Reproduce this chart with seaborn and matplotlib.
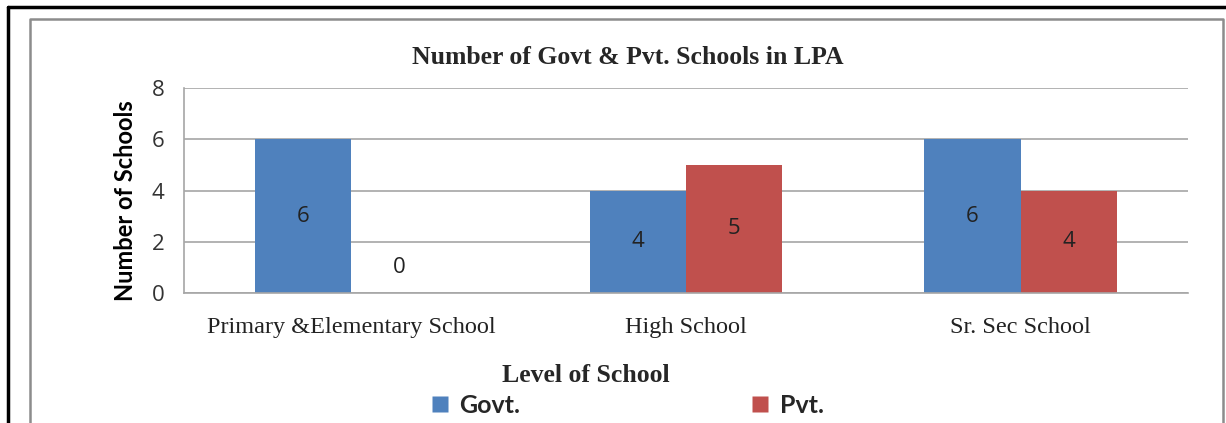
import matplotlib
matplotlib.use("Agg")
import matplotlib.pyplot as plt
import seaborn as sns
import pandas as pd
from matplotlib.lines import Line2D

categories = ["Primary &Elementary School", "High School", "Sr. Sec School"]
govt = [6, 4, 6]
pvt = [0, 5, 4]
series = ["Govt.", "Pvt."]
yticks = [0, 2, 4, 6, 8]

df = pd.DataFrame({
    "Level": categories * 2,
    "Count": govt + pvt,
    "Type": [series[0]] * 3 + [series[1]] * 3,
})

sns.set_style("white")
W, H = 1226, 423
fig = plt.figure(figsize=(W / 100, H / 100), dpi=100)
ax = fig.add_axes([184 / W, 1 - 293 / H, (1188 - 184) / W, (293 - 88) / H])

colors = {"Govt.": "#4F81BD", "Pvt.": "#C0504D"}
sns.barplot(data=df, x="Level", y="Count", hue="Type", palette=colors,
            width=0.575, ax=ax, legend=False, saturation=1, edgecolor="none")

ax.set_ylim(0, 8)
ax.set_xlim(-0.5, 2.5)
ax.set_yticks(yticks)
ax.yaxis.grid(True, color="#A6A6A6", linewidth=1.2)
ax.set_axisbelow(True)
for s in ["top", "right"]:
    ax.spines[s].set_visible(False)
for s in ["left", "bottom"]:
    ax.spines[s].set_color("#A6A6A6")
    ax.spines[s].set_linewidth(1.2)
ax.tick_params(axis="y", length=8, color="#A6A6A6", width=1.2, pad=6,
               labelsize=16, labelcolor="#333333")
ax.tick_params(axis="x", length=0, pad=17, labelsize=17.5, labelcolor="#222222")
for lab in ax.get_yticklabels():
    lab.set_family("Open Sans")
for lab in ax.get_xticklabels():
    lab.set_family("Liberation Serif")

# value labels
for cont, vals in zip(ax.containers, [govt, pvt]):
    for bar, v in zip(cont, vals):
        cx = bar.get_x() + bar.get_width() / 2
        ax.text(cx, v / 2 if v > 0 else 1, str(v), ha="center", va="center",
                fontsize=16, family="Open Sans", color="#222222")

ax.set_xlabel("")
ax.set_ylabel("Number of Schools", family="Lato", fontweight="bold",
              fontsize=17, color="black")
ax.yaxis.set_label_coords(-0.047, 0.45)

fig.text(628 / W, 1 - 57 / H, "Number of Govt & Pvt. Schools in LPA",
         ha="center", va="center", family="Liberation Serif",
         fontweight="bold", fontsize=18.5)
fig.text(586 / W, 1 - 375 / H, "Level of School", ha="center", va="center",
         family="Liberation Serif", fontweight="bold", fontsize=18.5)

# legend
handles = [Line2D([], [], marker="s", linestyle="none", markersize=11.5,
                  markerfacecolor=colors[s], markeredgecolor="none") for s in series]
fs_px = 18 * 100 / 72
leg = fig.legend(handles, series, loc="center left",
                 bbox_to_anchor=(430.5 / W, 1 - 405 / H),
                 ncol=2, frameon=False, borderpad=0, borderaxespad=0,
                 handlelength=19 / fs_px, handletextpad=10 / fs_px,
                 columnspacing=230 / fs_px,
                 prop={"family": "Lato", "weight": "bold", "size": 18})

# frames
fig.add_artist(Line2D([8 / W, 1], [1 - 7 / H, 1 - 7 / H], color="black", linewidth=2.5,
                      transform=fig.transFigure))
fig.add_artist(Line2D([8 / W, 8 / W], [0, 1 - 7 / H], color="black", linewidth=2.5,
                      transform=fig.transFigure))
fig.add_artist(Line2D([30 / W, 30 / W, 1223 / W, 1223 / W],
                      [0, 1 - 19 / H, 1 - 19 / H, 0], color="#8C8C8C", linewidth=1.8,
                      transform=fig.transFigure))

fig.savefig("out.png", dpi=100)
